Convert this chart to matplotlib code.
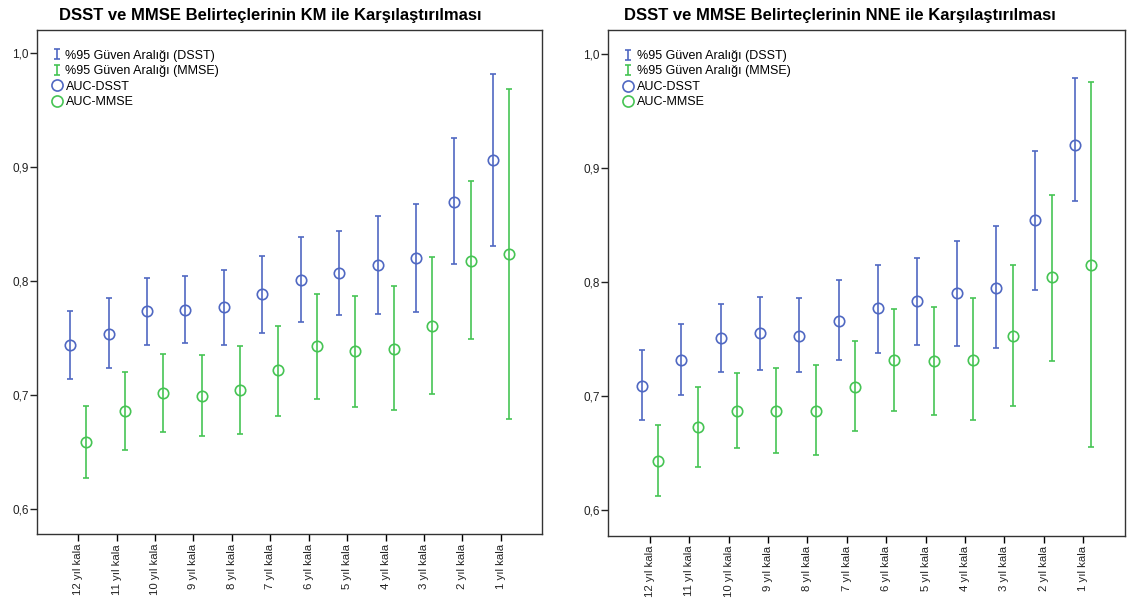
import numpy as np
import matplotlib
matplotlib.use("Agg")
import matplotlib.pyplot as plt
from matplotlib.path import Path
from matplotlib.lines import Line2D
from matplotlib.ticker import FuncFormatter

plt.rcParams['font.family'] = ['Liberation Sans', 'DejaVu Sans']

categories = ['12 yıl kala', '11 yıl kala', '10 yıl kala', '9 yıl kala', '8 yıl kala',
              '7 yıl kala', '6 yıl kala', '5 yıl kala', '4 yıl kala', '3 yıl kala',
              '2 yıl kala', '1 yıl kala']

# Kaplan-Meier (KM)
km_dsst_auc = [0.744, 0.754, 0.774, 0.775, 0.777, 0.789, 0.801, 0.807, 0.814, 0.820, 0.870, 0.906]
km_dsst_lo = [0.714, 0.724, 0.744, 0.746, 0.744, 0.755, 0.764, 0.770, 0.771, 0.773, 0.815, 0.831]
km_dsst_hi = [0.774, 0.785, 0.803, 0.805, 0.810, 0.822, 0.839, 0.844, 0.857, 0.868, 0.926, 0.982]
km_mmse_auc = [0.659, 0.686, 0.702, 0.699, 0.705, 0.722, 0.743, 0.739, 0.741, 0.761, 0.818, 0.824]
km_mmse_lo = [0.627, 0.652, 0.668, 0.664, 0.666, 0.682, 0.697, 0.690, 0.687, 0.701, 0.749, 0.679]
km_mmse_hi = [0.691, 0.720, 0.736, 0.735, 0.743, 0.761, 0.789, 0.787, 0.796, 0.821, 0.888, 0.969]

# Nearest neighbour estimation (NNE)
nne_dsst_auc = [0.709, 0.732, 0.751, 0.755, 0.753, 0.766, 0.777, 0.783, 0.790, 0.795, 0.854, 0.920]
nne_dsst_lo = [0.679, 0.701, 0.721, 0.723, 0.721, 0.732, 0.738, 0.745, 0.744, 0.742, 0.793, 0.871]
nne_dsst_hi = [0.740, 0.763, 0.781, 0.787, 0.786, 0.802, 0.815, 0.821, 0.836, 0.849, 0.915, 0.979]
nne_mmse_auc = [0.643, 0.673, 0.687, 0.687, 0.687, 0.708, 0.732, 0.731, 0.732, 0.753, 0.804, 0.815]
nne_mmse_lo = [0.612, 0.638, 0.654, 0.650, 0.648, 0.669, 0.687, 0.683, 0.679, 0.691, 0.731, 0.655]
nne_mmse_hi = [0.675, 0.708, 0.720, 0.725, 0.727, 0.748, 0.776, 0.778, 0.786, 0.815, 0.876, 0.975]

titles = ['DSST ve MMSE Belirteçlerinin KM ile Karşılaştırılması',
          'DSST ve MMSE Belirteçlerinin NNE ile Karşılaştırılması']
legend_labels = ['%95 Güven Aralığı (DSST)', '%95 Güven Aralığı (MMSE)', 'AUC-DSST', 'AUC-MMSE']

BLUE = '#5068c2'
GREEN = '#46c454'
OFFSET = 0.21

# I-shaped marker for the confidence-interval legend entries
ci_marker = Path([(-0.3, 0.5), (0.3, 0.5), (0, 0.5), (0, -0.5), (-0.3, -0.5), (0.3, -0.5)],
                 [Path.MOVETO, Path.LINETO, Path.MOVETO, Path.LINETO, Path.MOVETO, Path.LINETO])


def draw_panel(ax, title, title_x, d_auc, d_lo, d_hi, m_auc, m_lo, m_hi, ylim):
    x = np.arange(len(categories))
    for xs, auc, lo, hi, col in [(x - OFFSET, d_auc, d_lo, d_hi, BLUE),
                                 (x + OFFSET, m_auc, m_lo, m_hi, GREEN)]:
        auc = np.array(auc)
        lo = np.array(lo)
        hi = np.array(hi)
        ax.errorbar(xs, auc, yerr=[auc - lo, hi - auc], fmt='none', ecolor=col,
                    elinewidth=1.4, capsize=2, capthick=1.4, alpha=0.85)
        ax.plot(xs, auc, 'o', mfc='none', mec=col, ms=7.5, mew=1.2, zorder=3)

    ax.set_xlim(-1.07, len(categories) - 1 + 1.07)
    ax.set_ylim(*ylim)
    ax.set_xticks(x)
    ax.set_xticklabels(categories, rotation=90, fontsize=8.2, color='#222222')
    ax.set_yticks([0.6, 0.7, 0.8, 0.9, 1.0])
    ax.yaxis.set_major_formatter(FuncFormatter(lambda v, p: f'{v:.1f}'.replace('.', ',')))
    ax.tick_params(axis='y', labelsize=8.5, length=5, width=1, pad=1, colors='#222222')
    ax.tick_params(axis='x', length=5, width=1, pad=2)
    for s in ax.spines.values():
        s.set_linewidth(1.0)
        s.set_color('#333333')
    ax.set_title(title, fontsize=12, fontweight='bold', pad=7, x=title_x)

    handles = [
        Line2D([], [], linestyle='none', marker=ci_marker, ms=6.5, mec=BLUE, mew=1.2),
        Line2D([], [], linestyle='none', marker=ci_marker, ms=6.5, mec=GREEN, mew=1.2),
        Line2D([], [], linestyle='none', marker='o', ms=8, mfc='none', mec=BLUE, mew=1.2),
        Line2D([], [], linestyle='none', marker='o', ms=8, mfc='none', mec=GREEN, mew=1.2),
    ]
    ax.legend(handles, legend_labels, loc='upper left', frameon=False, fontsize=9,
              handlelength=0.8, handletextpad=0.25, labelspacing=0.28,
              borderaxespad=0.3, bbox_to_anchor=(0.013, 0.978))


fig = plt.figure(figsize=(11.29, 6.05), dpi=100)
ax1 = fig.add_axes([0.0328, 0.1169, 0.4473, 0.8335])
ax2 = fig.add_axes([0.5385, 0.1140, 0.4580, 0.8364])

draw_panel(ax1, titles[0], 0.461, km_dsst_auc, km_dsst_lo, km_dsst_hi,
           km_mmse_auc, km_mmse_lo, km_mmse_hi, (0.578, 1.0205))
draw_panel(ax2, titles[1], 0.449, nne_dsst_auc, nne_dsst_lo, nne_dsst_hi,
           nne_mmse_auc, nne_mmse_lo, nne_mmse_hi, (0.5772, 1.021))

fig.savefig('out.png', dpi=100)
